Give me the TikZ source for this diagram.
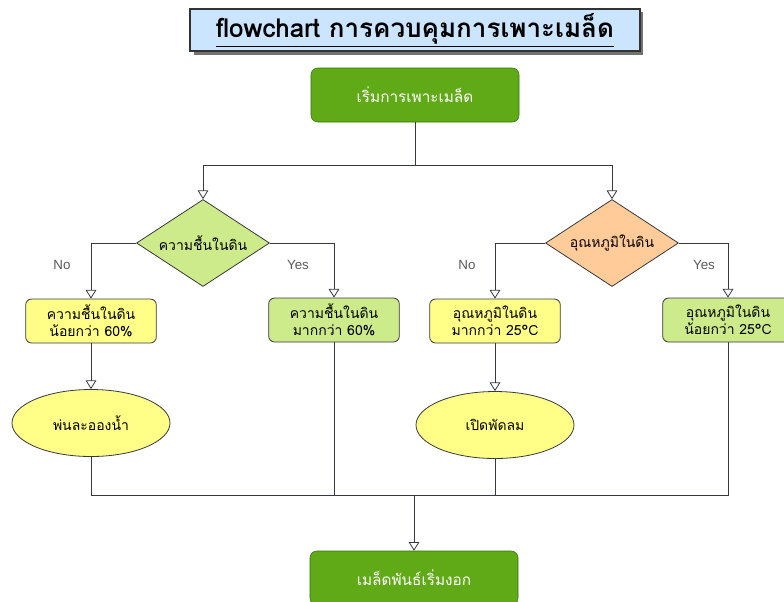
\documentclass[tikz,border=0pt]{standalone}
\usepackage{fontspec}
\setmainfont{Liberation Sans}
\newfontfamily\thaifont[Script=Thai]{Loma}
\usetikzlibrary{arrows.meta,shapes.geometric,shadows}
\definecolor{startgreen}{HTML}{60A917}
\definecolor{startline}{HTML}{2D7600}
\definecolor{softgreen}{HTML}{CDEB8B}
\definecolor{softyellow}{HTML}{FFFF88}
\definecolor{softorange}{HTML}{FFCC99}
\definecolor{titleblue}{HTML}{CCE5FF}
\definecolor{edgegray}{HTML}{36393D}
\begin{document}
\begin{tikzpicture}[x=0.75pt,y=-0.75pt,
		every node/.style={font=\thaifont\fontsize{10.5}{13}\selectfont, align=center},
		arr/.style={draw=edgegray, line width=0.6pt, -{Triangle[open,width=8pt,length=6.5pt]}},
		line/.style={draw=edgegray, line width=0.6pt},
		startbox/.style={rectangle, rounded corners=5pt, fill=startgreen, draw=startline, text=white, minimum width=156pt, minimum height=40.5pt, font=\thaifont\fontsize{11.5}{14}\selectfont},
		condbox/.style={rectangle, rounded corners=4.5pt, draw=edgegray, line width=0.6pt, minimum width=98pt, minimum height=33pt},
		decision/.style={diamond, draw=edgegray, line width=0.6pt, inner sep=0pt, aspect=1.5, minimum width=99.75pt, minimum height=65.25pt},
		action/.style={ellipse, draw=edgegray, line width=0.6pt, fill=softyellow, minimum width=118.5pt, minimum height=50.25pt},
		answer/.style={font=\fontsize{10}{12}\selectfont, text=black!65}]
	\useasboundingbox (0,0) rectangle (784,601);
	\node[draw=black!80, line width=1.5pt, fill=titleblue, minimum width=337pt, minimum height=25pt,
		drop shadow={shadow xshift=2.5pt, shadow yshift=-2.5pt, fill=black!55, opacity=1},
		font=\thaifont\bfseries\fontsize{19.5}{21}\selectfont] (title) at (415,30) {\underline{flowchart การควบคุมการเพาะเมล็ด}};
	\node[startbox] (start) at (415,95) {เริ่มการเพาะเมล็ด};
	\node[decision, fill=softgreen] (moist) at (203,243) {ความชื้นในดิน};
	\node[decision, fill=softorange] (temp) at (612,243) {อุณหภูมิในดิน};
	\node[condbox, fill=softyellow] (moistlow) at (91,321) {ความชื้นในดิน\\น้อยกว่า 60\%};
	\node[condbox, fill=softgreen] (moisthigh) at (334,320) {ความชื้นในดิน\\มากกว่า 60\%};
	\node[condbox, fill=softyellow] (temphigh) at (495,321) {อุณหภูมิในดิน\\มากกว่า 25°C};
	\node[condbox, fill=softgreen] (templow) at (728,320) {อุณหภูมิในดิน\\น้อยกว่า 25°C};
	\node[action] (spray) at (91,423) {พ่นละอองน้ำ};
	\node[action] (fan) at (495,425) {เปิดพัดลม};
	\node[startbox] (finish) at (414,578) {เมล็ดพันธ์เริ่มงอก};
	\foreach \x/\t in {62/No,298/Yes,467/No,704/Yes}{
		\node[answer] at (\x,265) {\t};
	}
	\draw[line] (start.south) -- (415,165) coordinate (split);
	\draw[arr] (split) -| (moist.north);
	\draw[arr] (split) -| (temp.north);
	\draw[arr] (moist.west) -| (moistlow.north);
	\draw[arr] (moist.east) -| (moisthigh.north);
	\draw[arr] (temp.west) -| (temphigh.north);
	\draw[arr] (temp.east) -| (templow.north);
	\draw[arr] (moistlow.south) -- (spray.north);
	\draw[arr] (temphigh.south) -- (fan.north);
	\coordinate (merge) at (414,495);
	\foreach \n in {spray,moisthigh,fan,templow}{
		\draw[line] (\n.south) |- (merge);
	}
	\draw[arr] (merge) -- (finish.north);
\end{tikzpicture}
\end{document}
